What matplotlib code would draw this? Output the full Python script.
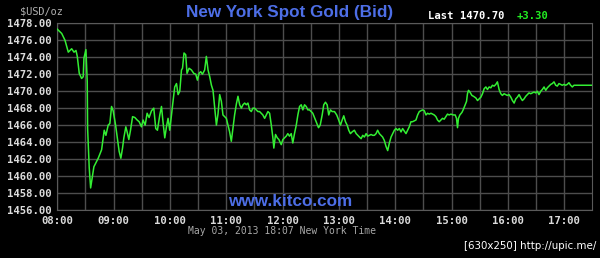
import matplotlib
matplotlib.use("Agg")
import matplotlib.pyplot as plt

# minutes after 08:00 (New York time) and bid price
minutes = [
    0, 4.7, 8.2, 11.7, 15.3, 17.8, 19.9, 21.3, 23.4, 25.9, 27.6, 28.4, 30.5, 31.9, 32.3,
    34.0, 35.5, 37.6, 39.0, 43.6, 47.2, 48.9, 50.0, 51.8, 54.2, 56.0, 57.8, 59.5, 62.1,
    64.2, 65.9, 67.7, 69.5, 70.9, 73.0, 74.4, 76.2, 78.0, 80.2, 82.6, 85.1, 87.2, 89.7,
    91.4, 93.6, 95.7, 97.8, 100.4, 102.8, 104.9, 106.7, 109.2, 111.0, 112.7, 114.5, 116.3,
    118.0, 119.8, 121.6, 123.3, 125.1, 127.0, 128.7, 130.5, 132.3, 133.4, 135.0, 136.8,
    138.2, 140.4, 142.9, 145.4, 147.5, 149.3, 151.0, 152.8, 154.6, 157.0, 158.8, 160.6,
    162.4, 164.2, 165.9, 167.7, 169.5, 171.2, 173.0, 174.8, 176.5, 178.3, 180.1, 181.8,
    183.6, 185.4, 187.1, 188.9, 190.8, 192.5, 194.3, 196.1, 197.8, 199.6, 201.4, 203.1,
    204.9, 206.7, 208.4, 210.2, 212.0, 213.7, 215.5, 217.3, 219.0, 220.9, 222.7, 224.4,
    226.2, 228.0, 229.7, 230.7, 232.5, 234.4, 236.1, 238.6, 240.3, 242.1, 243.9, 245.6,
    247.4, 249.2, 250.9, 252.7, 254.6, 256.3, 258.1, 259.9, 261.6, 263.4, 265.2, 266.9,
    268.7, 272.2, 275.8, 278.3, 280.1, 282.2, 283.9, 285.7, 287.5, 289.2, 291.0, 292.8,
    295.3, 297.7, 299.8, 301.7, 303.5, 305.2, 307.0, 308.8, 310.5, 312.3, 314.1, 316.5,
    318.4, 320.1, 321.9, 323.7, 325.4, 327.2, 329.0, 330.7, 332.5, 334.3, 336.0, 337.8,
    339.6, 341.3, 343.1, 344.9, 346.6, 348.4, 350.2, 352.0, 353.8, 355.6, 357.3, 359.1,
    360.9, 362.6, 364.4, 366.2, 367.9, 369.7, 371.5, 373.2, 375.0, 376.8, 378.5, 380.3,
    382.1, 383.9, 385.7, 387.5, 389.2, 391.0, 392.8, 394.5, 396.3, 398.1, 399.8, 401.6,
    403.4, 405.1, 406.9, 408.7, 410.4, 412.2, 414.0, 415.7, 417.5, 419.4, 421.8, 423.9,
    425.3, 426.4, 427.4, 428.9, 431.1, 432.4, 434.6, 436.0, 437.0, 438.1, 439.6, 441.7,
    443.4, 446.0, 447.7, 449.5, 451.3, 453.0, 454.8, 456.6, 458.3, 460.1, 461.9, 463.6,
    465.4, 467.2, 468.9, 470.7, 472.5, 474.2, 476.0, 477.8, 479.5, 481.3, 483.2, 484.9,
    486.7, 488.5, 490.2, 492.0, 493.8, 495.5, 497.3, 499.1, 500.8, 502.6, 504.4, 506.1,
    507.9, 509.7, 511.4, 513.2, 515.1, 516.8, 518.6, 520.4, 522.1, 523.9, 525.7, 527.4,
    529.2, 531.0, 532.7, 534.5, 536.3, 538.0, 539.8, 541.6, 543.3, 545.1, 546.9, 548.7,
    550.5, 570,
]
prices = [
    1477.3, 1476.8, 1476.0, 1474.6, 1475.0, 1474.6, 1474.8, 1474.1, 1472.1, 1471.5, 1471.7, 1473.9, 1474.9, 1471.1, 1465.6,
    1461.0, 1458.6, 1460.1, 1461.1, 1462.1, 1463.1, 1464.5, 1465.4, 1464.8, 1466.0, 1466.2, 1468.2, 1467.7, 1466.0,
    1464.3, 1462.9, 1462.1, 1463.3, 1464.5, 1465.8, 1465.2, 1464.3, 1465.4, 1467.0, 1466.9, 1466.6, 1466.4, 1465.8,
    1466.6, 1466.0, 1467.4, 1466.9, 1467.7, 1468.0, 1465.6, 1465.4, 1467.2, 1468.2, 1466.3, 1464.5, 1465.8,
    1466.8, 1465.4, 1467.2, 1468.8, 1470.5, 1470.9, 1469.6, 1470.0, 1472.5, 1472.7, 1474.5, 1474.3,
    1472.1, 1472.7, 1472.5, 1472.1, 1472.0, 1471.3, 1472.1, 1472.3, 1472.0, 1472.5, 1474.1, 1472.5,
    1471.7, 1470.7, 1470.1, 1468.0, 1466.0, 1467.3, 1469.6, 1468.8, 1467.2, 1467.0, 1466.8, 1466.0,
    1465.2, 1464.1, 1465.6, 1467.2, 1468.5, 1469.4, 1468.4, 1468.0, 1468.4, 1468.6, 1468.4, 1468.6,
    1467.8, 1467.6, 1468.0, 1468.0, 1467.8, 1467.6, 1467.6, 1467.4, 1467.2, 1466.8, 1467.2, 1467.6,
    1467.4, 1466.0, 1464.5, 1463.3, 1464.9, 1464.5, 1464.3, 1463.7, 1464.3, 1464.5, 1464.7, 1465.0,
    1464.7, 1465.0, 1463.9, 1465.0, 1466.0, 1467.2, 1468.2, 1468.4, 1467.8, 1468.4, 1468.2, 1467.8,
    1467.8, 1467.4, 1466.4, 1465.7, 1466.0, 1467.2, 1468.4, 1468.7, 1468.4, 1467.2, 1467.8, 1467.6,
    1467.6, 1467.2, 1466.6, 1466.0, 1466.6, 1467.1, 1466.4, 1466.0, 1465.4, 1465.0, 1465.2, 1465.4,
    1465.0, 1464.8, 1464.6, 1464.4, 1464.8, 1464.6, 1465.0, 1464.7, 1464.8, 1464.9, 1464.8, 1464.8,
    1465.0, 1465.4, 1465.0, 1464.8, 1464.6, 1464.2, 1463.5, 1463.0, 1463.9, 1464.6, 1465.0, 1465.4,
    1465.6, 1465.4, 1465.6, 1465.2, 1465.6, 1465.3, 1465.0, 1465.4, 1465.8, 1466.4, 1466.4, 1466.5,
    1466.6, 1467.2, 1467.6, 1467.7, 1467.8, 1467.7, 1467.2, 1467.4, 1467.3, 1467.4, 1467.3, 1467.2,
    1467.0, 1466.6, 1466.4, 1466.6, 1466.8, 1466.7, 1467.0, 1467.3, 1467.2, 1467.3, 1467.2, 1467.2,
    1466.8, 1465.7, 1466.8, 1467.2, 1467.5, 1467.8, 1468.4, 1468.8, 1469.7, 1470.1, 1469.9, 1469.5,
    1469.4, 1469.2, 1468.9, 1469.1, 1469.3, 1469.7, 1470.3, 1470.5, 1470.2, 1470.5, 1470.4, 1470.7,
    1470.6, 1470.8, 1471.1, 1470.2, 1469.7, 1469.5, 1469.7, 1469.6, 1469.5, 1469.6, 1469.3, 1468.9,
    1468.6, 1469.1, 1469.3, 1469.6, 1469.2, 1468.9, 1469.1, 1469.4, 1469.6, 1469.8, 1469.7, 1469.8,
    1469.9, 1469.8, 1470.0, 1469.6, 1470.0, 1470.2, 1470.5, 1470.1, 1470.4, 1470.6, 1470.8, 1470.9,
    1471.1, 1470.7, 1470.6, 1470.9, 1470.8, 1470.7, 1470.8, 1470.7, 1470.8, 1471.0, 1470.7, 1470.5,
    1470.7, 1470.7,
]
hour_labels = ["08:00", "09:00", "10:00", "11:00", "12:00", "13:00", "14:00", "15:00", "16:00", "17:00"]
price_ticks = [1456, 1458, 1460, 1462, 1464, 1466, 1468, 1470, 1472, 1474, 1476, 1478]

MONO = "DejaVu Sans Mono"
W, H = 600, 258

fig = plt.figure(figsize=(6, 2.58), dpi=100, facecolor="black")
ax = fig.add_axes([57.3 / W, 1 - 210 / H, (592.3 - 57.3) / W, (210 - 23.3) / H])
ax.set_facecolor("black")

ax.plot(minutes, prices, color="#33ee33", lw=1.1, zorder=3)

ax.set_xlim(0, 570)
ax.set_ylim(1456, 1478)
ax.set_xticks(range(0, 60 * len(hour_labels), 60))
ax.set_xticklabels(hour_labels)
ax.set_xticks(range(30, 570, 60), minor=True)
ax.set_yticks(price_ticks)
ax.set_yticklabels([f"{p:.2f}" for p in price_ticks])
ax.grid(which="both", color="#4d4d4d", lw=1)
ax.set_axisbelow(True)
for s in ax.spines.values():
    s.set_color("#5a5a5a")

ax.tick_params(which="both", length=0, colors="#dcdcdc", labelsize=7.7)
ax.tick_params(axis="y", pad=4)
ax.tick_params(axis="x", pad=4)
for lab in ax.get_xticklabels() + ax.get_yticklabels():
    lab.set_fontfamily(MONO)
    lab.set_fontweight("bold")

# Header and footer texts
fig.text(20 / W, 1 - 11 / H, "$USD/oz", ha="left", va="center", color="#b0b0b0",
         fontsize=7.4, family=MONO)
fig.text(290 / W, 1 - 12 / H, "New York Spot Gold (Bid)", ha="center", va="center",
         color="#4d6ee6", fontsize=12.3, fontweight="bold", family="Liberation Sans")
fig.text(428 / W, 1 - 16 / H, "Last 1470.70", ha="left", va="center", color="white",
         fontsize=7.6, fontweight="bold", family=MONO)
fig.text(517 / W, 1 - 16 / H, "+3.30", ha="left", va="center", color="#22ee22",
         fontsize=7.6, fontweight="bold", family=MONO)
fig.text(290 / W, 1 - 202 / H, "www.kitco.com", ha="center", va="center",
         color="#4d6ee6", fontsize=12.3, fontweight="bold", family="Liberation Sans")
fig.text(282 / W, 1 - 231 / H, "May 03, 2013 18:07 New York Time", ha="center", va="center",
         color="#a8a8a8", fontsize=7, family=MONO)
fig.text(596 / W, 1 - 246 / H, "[630x250] http://upic.me/", ha="right", va="center",
         color="white", fontsize=7.4, family="DejaVu Sans")

fig.savefig("out.png", dpi=100, facecolor="black")
